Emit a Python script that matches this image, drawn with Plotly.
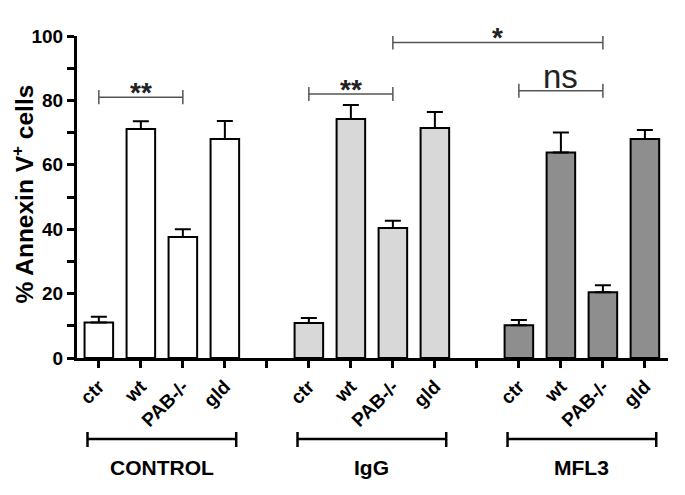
import plotly.graph_objects as go

categories = ["ctr", "wt", "PAB-/-", "gld"]
groups = ["CONTROL", "IgG", "MFL3"]
values_control = [11.0, 71.1, 37.6, 68.0]
errors_control = [1.8, 2.4, 2.4, 5.6]
values_igg = [10.9, 74.2, 40.4, 71.4]
errors_igg = [1.5, 4.4, 2.2, 5.0]
values_mfl3 = [10.2, 63.8, 20.4, 68.0]
errors_mfl3 = [1.6, 6.2, 2.2, 2.8]
fill_colors = ["#ffffff", "#d8d8d8", "#8e8e8e"]
y_title = "<b>% Annexin V<sup>+</sup> cells</b>"
# significance: (from bar index, to bar index, level, label)
sig_brackets = [(0, 2, 81.0, "**"), (5, 7, 82.0, "**"), (7, 12, 98.0, "*"), (10, 12, 83.0, "ns")]

FONT = "Liberation Sans, Arial, sans-serif"
all_values = [values_control, values_igg, values_mfl3]
all_errors = [errors_control, errors_igg, errors_mfl3]
n = len(categories)
step = n + 1

fig = go.Figure()
tickvals, ticktext, gapticks = [], [], []
for g, (vals, errs) in enumerate(zip(all_values, all_errors)):
    xs = [g * step + i for i in range(n)]
    fig.add_trace(go.Bar(
        x=xs, y=vals, width=0.68,
        marker=dict(color=fill_colors[g], line=dict(color="black", width=2)),
        error_y=dict(type="data", array=errs, arrayminus=[0] * n, symmetric=False,
                     color="black", thickness=2, width=8),
        showlegend=False, hoverinfo="skip"))
    tickvals += xs
    ticktext += ["<b>%s</b>" % c for c in categories]
    if g < len(groups) - 1:
        gapticks.append(g * step + n)
    # group bracket below axis
    x0, x1 = xs[0] - 0.27, xs[-1] + 0.27
    fig.add_shape(type="line", xref="x", yref="paper", x0=x0, x1=x1, y0=-0.2516, y1=-0.2516,
                  line=dict(color="black", width=2.5))
    for xe in (x0, x1):
        fig.add_shape(type="line", xref="x", yref="paper", x0=xe, x1=xe, y0=-0.2298, y1=-0.2764,
                      line=dict(color="black", width=2.5))
    fig.add_annotation(x=(xs[0] + xs[-1]) / 2, xref="x", y=-0.3416, yref="paper",
                       text="<b>%s</b>" % groups[g], showarrow=False, yanchor="middle",
                       font=dict(family=FONT, size=21, color="black"))

for a, b, lvl, lab in sig_brackets:
    fig.add_shape(type="line", x0=a, x1=b, y0=lvl, y1=lvl, line=dict(color="#555555", width=1.5))
    for xe in (a, b):
        fig.add_shape(type="line", x0=xe, x1=xe, y0=lvl - 2.2, y1=lvl + 2.2,
                      line=dict(color="#555555", width=1.5))
    is_ns = lab == "ns"
    fig.add_annotation(x=(a + b) / 2, y=lvl, text=lab if is_ns else "<b>%s</b>" % lab,
                       showarrow=False, yanchor="bottom",
                       yshift=-6 if is_ns else -13,
                       font=dict(family=FONT, size=33 if is_ns else 28, color="#222222"))

fig.add_annotation(x=-0.093, xref="paper", y=0.508, yref="paper", text=y_title, textangle=-90,
                   showarrow=False, xanchor="center", yanchor="middle",
                   font=dict(family=FONT, size=24.5, color="black"))

fig.update_layout(
    width=685, height=495,
    margin=dict(l=69, r=25, t=28, b=145, autoexpand=False),
    plot_bgcolor="white", paper_bgcolor="white",
    barmode="overlay",
    font=dict(family=FONT, color="black"),
)
fig.update_xaxes(
    range=[-0.52, 13.55], tickvals=tickvals, ticktext=ticktext, tickangle=-45,
    ticks="outside", ticklen=7, tickwidth=3, tickcolor="black",
    minor=dict(tickvals=gapticks, ticks="outside", ticklen=7, tickwidth=3, tickcolor="black"),
    showline=True, linewidth=3, linecolor="black", showgrid=False, zeroline=False,
    tickfont=dict(family=FONT, size=19, color="black"), automargin=False,
)
fig.update_yaxes(
    range=[0, 100], tickvals=[0, 20, 40, 60, 80, 100],
    ticktext=["<b>%d</b>" % v for v in [0, 20, 40, 60, 80, 100]],
    ticks="outside", ticklen=7, tickwidth=3, tickcolor="black",
    minor=dict(tickvals=[10, 30, 50, 70, 90], ticks="outside", ticklen=7, tickwidth=3, tickcolor="black"),
    showline=True, linewidth=3, linecolor="black", showgrid=False, zeroline=False,
    tickfont=dict(family=FONT, size=19, color="black"), automargin=False,
)

fig.write_html("out.html")
